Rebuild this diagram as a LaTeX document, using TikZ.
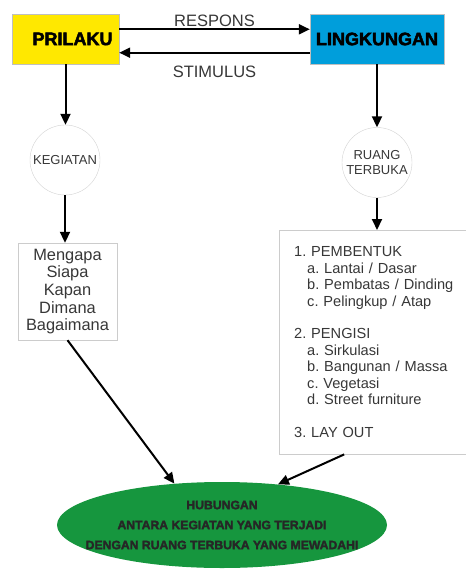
\documentclass[tikz,border=0pt]{standalone}
\usepackage{fontspec}
\setmainfont{Liberation Sans}
\newfontfamily\heavyfont{Liberation Sans}[BoldFont={Liberation Sans Bold},BoldFeatures={FakeBold=2.5}]
\usepackage{tikz}
\usetikzlibrary{positioning,shapes.geometric,arrows.meta}
\definecolor{prilakuyellow}{RGB}{255,232,0}
\definecolor{lingkunganblue}{RGB}{0,158,219}
\definecolor{hubungangreen}{RGB}{22,150,62}
\definecolor{labelgray}{RGB}{55,55,55}
\frenchspacing
\begin{document}
\begin{tikzpicture}[x=1pt,y=-1pt,
  arr/.style={line width=2pt,-{Triangle[length=11pt,width=10pt]}},
  lbl/.style={text=labelgray,font=\fontsize{16.5}{18}\selectfont},
  topbox/.style={draw=gray!50,inner sep=0pt,minimum height=50pt,font=\heavyfont\bfseries\fontsize{18}{20}\selectfont},
  bubble/.style={circle,draw=gray!35,minimum size=70pt,inner sep=0pt,align=center,text=labelgray,font=\fontsize{13}{15}\selectfont}]
\useasboundingbox (0,0) rectangle (465,569);

\node[topbox, fill=prilakuyellow, minimum width=107pt] at (65.5,39) (prilaku) {\hspace*{14pt}PRILAKU};
\node[topbox, fill=lingkunganblue, minimum width=134pt] at (377,39) (lingkungan) {LINGKUNGAN};

\draw[arr] ([yshift=9.7pt]prilaku.east) -- ([yshift=9.7pt]lingkungan.west) node[midway, anchor=base, yshift=3pt, lbl] {RESPONS};
\draw[arr] ([yshift=-13.7pt]lingkungan.west) -- ([yshift=-13.7pt]prilaku.east) node[midway, anchor=base, yshift=-24.6pt, lbl] {STIMULUS};

\node[bubble] at (65,160) (kegiatan) {KEGIATAN};
\node[bubble] at (377,162.5) (ruang) {RUANG\\TERBUKA};

\node[draw=gray!40, minimum width=99pt, minimum height=97pt, align=center, text=labelgray, font=\fontsize{16.4}{17.7}\selectfont] at (67.5,291.5) (pertanyaan) {Mengapa\\Siapa\\Kapan\\Dimana\\Bagaimana};

\node[draw=gray!40, anchor=north west, text width=172pt, inner xsep=15pt, minimum height=224pt, align=left, text=labelgray, font=\fontsize{14.6}{16.4}\selectfont] at (279,230) (elemen) {
1. PEMBENTUK\\
\hspace*{13pt}a. Lantai / Dasar\\
\hspace*{13pt}b. Pembatas / Dinding\\
\hspace*{13pt}c. Pelingkup / Atap\\[16.4pt]
2. PENGISI\\
\hspace*{13pt}a. Sirkulasi\\
\hspace*{13pt}b. Bangunan / Massa\\
\hspace*{13pt}c. Vegetasi\\
\hspace*{13pt}d. Street furniture\\[16.4pt]
3. LAY OUT
};

\node[ellipse, fill=hubungangreen, minimum width=330pt, minimum height=86pt, inner sep=0pt,
  label={[align=center, text=black!85, font=\heavyfont\bfseries\fontsize{12.2}{20}\selectfont]center:HUBUNGAN\\ANTARA KEGIATAN YANG TERJADI\\DENGAN RUANG TERBUKA YANG MEWADAHI}] at (222,525) (hubungan) {};

\draw[arr] (prilaku.south) -- (prilaku.south |- kegiatan.north);
\draw[arr] (kegiatan.south) -- (kegiatan.south |- pertanyaan.north);
\draw[arr] (lingkungan.south) -- (ruang.north);
\draw[arr] (ruang.south) -- (ruang.south |- elemen.north);
\draw[arr] (pertanyaan.south) -- (hubungan.139);
\draw[arr] ([xshift=-36pt]elemen.south) -- (hubungan.36);
\end{tikzpicture}
\end{document}
